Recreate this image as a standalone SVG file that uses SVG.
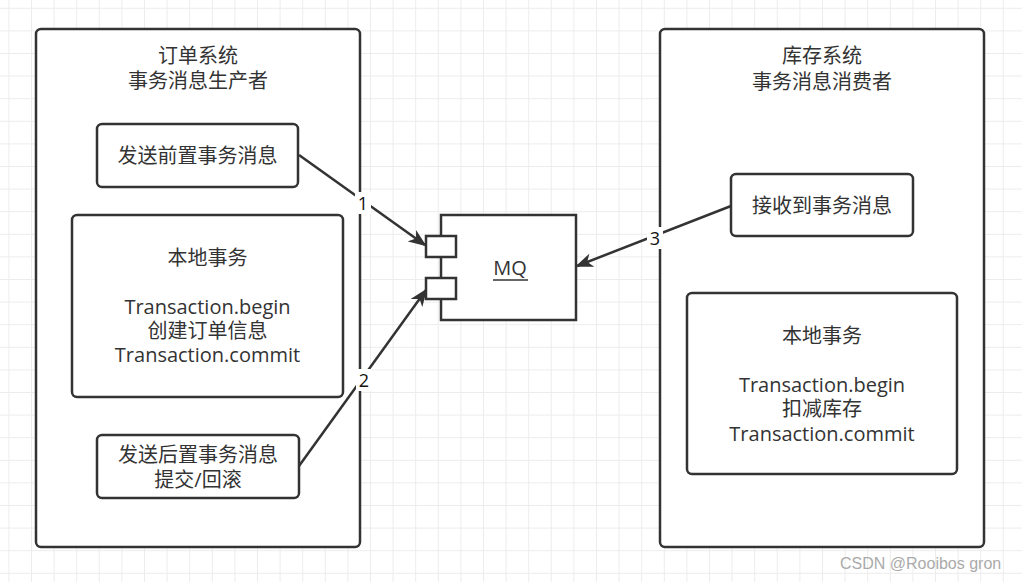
<svg xmlns="http://www.w3.org/2000/svg" width="1022" height="582" viewBox="0 0 1022 582">
<style>
.box{fill:#fff;stroke:#333;stroke-width:2.5}
.t{font-family:"Open Sans","Noto Sans CJK SC",sans-serif;font-size:20px;fill:#333;text-anchor:middle}
.lbl{font-family:"Open Sans","Noto Sans CJK SC",sans-serif;font-size:18px;fill:#111;text-anchor:middle}
.edge{fill:none;stroke:#333;stroke-width:2.5}
.wm{font-family:"Liberation Sans",Arial,sans-serif;font-size:16px;fill:#aaa}
</style>
<defs>
<pattern id="grid" width="22.6" height="22.6" patternUnits="userSpaceOnUse" x="8.4" y="7.8">
<path d="M0,0.5 H22.6 M0.5,0 V22.6" stroke="#ececec" stroke-width="1" fill="none"/>
</pattern>
<marker id="arr" viewBox="0 0 18 14" refX="16" refY="7" markerWidth="18" markerHeight="14" markerUnits="userSpaceOnUse" orient="auto">
<path d="M0,0 L18,7 L0,14 L5,7 z" fill="#333"/>
</marker>
</defs>
<rect width="1022" height="582" fill="#fff"/>
<rect width="1022" height="582" fill="url(#grid)"/>

<g id="order-system">
<rect class="box" x="36" y="29" width="324" height="518" rx="5"/>
<text class="t" x="198" y="63"><tspan x="198">订单系统</tspan><tspan x="198" dy="25">事务消息生产者</tspan></text>
</g>
<g id="send-pre">
<rect class="box" x="97" y="124" width="201" height="63" rx="5"/>
<text class="t" x="197.5" y="162.5">发送前置事务消息</text>
</g>
<g id="local-tx-left">
<rect class="box" x="72" y="215" width="271" height="182" rx="5"/>
<text class="t" x="207.5" y="265"><tspan x="207.5">本地事务</tspan><tspan x="207.5" dy="49">Transaction.begin</tspan><tspan x="207.5" dy="24">创建订单信息</tspan><tspan x="207.5" dy="24">Transaction.commit</tspan></text>
</g>
<g id="send-post">
<rect class="box" x="97" y="435" width="202" height="63" rx="5"/>
<text class="t" x="198" y="462"><tspan x="198">发送后置事务消息</tspan><tspan x="198" dy="25">提交/回滚</tspan></text>
</g>

<g id="mq">
<rect class="box" x="441" y="215" width="135" height="105"/>
<rect class="box" x="426" y="236" width="30" height="21"/>
<rect class="box" x="426" y="278" width="30" height="21"/>
<text class="t" x="510" y="275">MQ</text>
<line x1="493" y1="280" x2="528" y2="280" stroke="#333" stroke-width="1.3"/>
</g>

<g id="stock-system">
<rect class="box" x="660" y="29" width="324" height="518" rx="5"/>
<text class="t" x="822" y="63"><tspan x="822">库存系统</tspan><tspan x="822" dy="26">事务消息消费者</tspan></text>
</g>
<g id="receive">
<rect class="box" x="731" y="174" width="182" height="62" rx="5"/>
<text class="t" x="822" y="213">接收到事务消息</text>
</g>
<g id="local-tx-right">
<rect class="box" x="687" y="293" width="270" height="181" rx="5"/>
<text class="t" x="822" y="343"><tspan x="822">本地事务</tspan><tspan x="822" dy="49">Transaction.begin</tspan><tspan x="822" dy="24">扣减库存</tspan><tspan x="822" dy="25">Transaction.commit</tspan></text>
</g>

<g id="connectors">
<path class="edge" d="M299,155 L425,245" marker-end="url(#arr)"/>
<path class="edge" d="M299,466 L426,290" marker-end="url(#arr)"/>
<path class="edge" d="M731,206 L577,266" marker-end="url(#arr)"/>
<rect x="355" y="192" width="16" height="22" fill="#fff"/>
<text class="lbl" x="363" y="209.5">1</text>
<rect x="356" y="369" width="16" height="22" fill="#fff"/>
<text class="lbl" x="364" y="386.5">2</text>
<rect x="647" y="227" width="16" height="22" fill="#fff"/>
<text class="lbl" x="655" y="244.5">3</text>
</g>

<text class="wm" x="840" y="569">CSDN @Rooibos gron</text>
</svg>
